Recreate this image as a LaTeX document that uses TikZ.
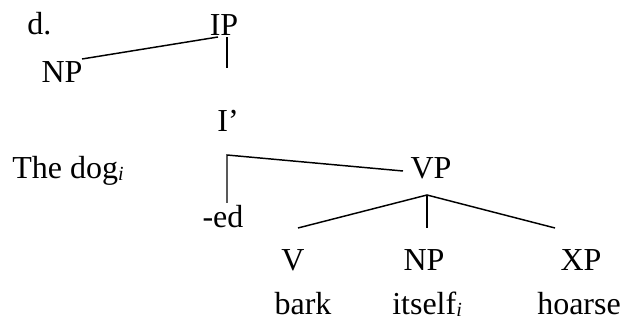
\documentclass[tikz,border=0pt]{standalone}
\usepackage{fontspec}
\setmainfont{Liberation Serif}
\newcommand{\subi}{\raisebox{-1.5pt}{\fontsize{15}{15}\selectfont\textit{i}}}
\begin{document}
\begin{tikzpicture}[x=0.75pt,y=-0.75pt,
  lbl/.style={inner sep=0pt,anchor=base,font=\fontsize{24}{28}\selectfont},
  br/.style={line width=1.1pt}]
\useasboundingbox (0,0) rectangle (622,320);
\node[lbl,anchor=base west] (d) at (27,35) {d.};
\node[lbl] (ip) at (224,36) {IP};
\node[lbl] (np1) at (62,83) {NP};
\node[lbl] (ibar) at (228,132) {I’};
\node[lbl,anchor=base west] (dog) at (12,179) {The dog\subi};
\node[lbl] (ed) at (223,228) {-ed};
\node[lbl] (vp) at (431,179) {VP};
\node[lbl] (v) at (293,271) {V};
\node[lbl] (np2) at (424,271) {NP};
\node[lbl] (xp) at (581,271) {XP};
\node[lbl] (bark) at (303,315) {bark};
\node[lbl,anchor=base west] (itself) at (392,315) {itself\subi};
\node[lbl,anchor=base west] (hoarse) at (537,315) {hoarse};
% branch points
\coordinate (ipfoot) at (227,37);
\coordinate (ipdown) at (227,68);
\coordinate (npend) at (82,59);
\coordinate (ipleft) at (218,37);
\coordinate (corner) at (227,155);
\coordinate (edtop) at (227,203);
\coordinate (vpend) at (403,171);
\coordinate (apex) at (427,195);
\coordinate (vtop) at (298,228);
\coordinate (nptop) at (427,228);
\coordinate (xptop) at (555,228);
\draw[br] (npend) -- (ipleft);
\draw[br] (ipfoot) -- (ipdown);
\draw[br] (edtop) -- (corner) -- (vpend);
\draw[br] (vtop) -- (apex) -- (xptop);
\draw[br] (apex) -- (nptop);
\end{tikzpicture}
\end{document}
